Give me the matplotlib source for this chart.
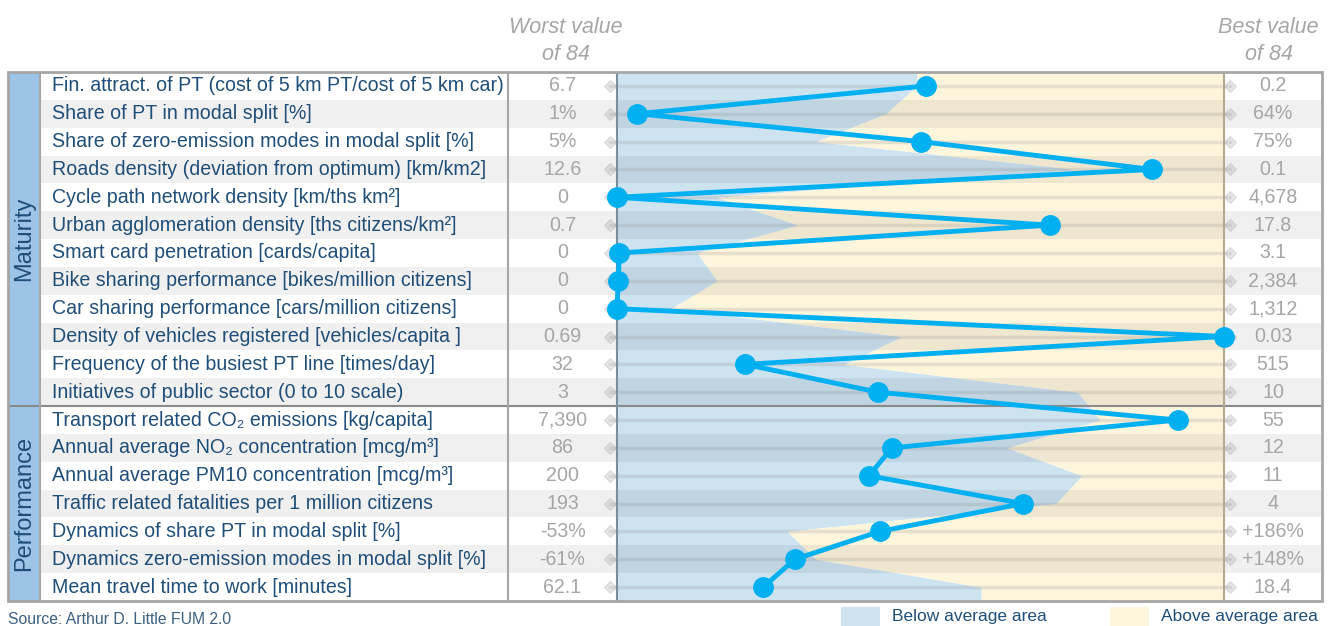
import matplotlib
matplotlib.use('Agg')
import matplotlib.pyplot as plt
from matplotlib.patches import Rectangle

plt.rcParams['font.family'] = ['Liberation Sans', 'DejaVu Sans']

# indicators (top to bottom)
labels = [
    'Fin. attract. of PT (cost of 5 km PT/cost of 5 km car)',
    'Share of PT in modal split [%]',
    'Share of zero-emission modes in modal split [%]',
    'Roads density (deviation from optimum) [km/km2]',
    'Cycle path network density [km/ths km\u00b2]',
    'Urban agglomeration density [ths citizens/km\u00b2]',
    'Smart card penetration [cards/capita]',
    'Bike sharing performance [bikes/million citizens]',
    'Car sharing performance [cars/million citizens]',
    'Density of vehicles registered [vehicles/capita ]',
    'Frequency of the busiest PT line [times/day]',
    'Initiatives of public sector (0 to 10 scale)',
    'Transport related CO\u2082 emissions [kg/capita]',
    'Annual average NO\u2082 concentration [mcg/m\u00b3]',
    'Annual average PM10 concentration [mcg/m\u00b3]',
    'Traffic related fatalities per 1 million citizens',
    'Dynamics of share PT in modal split [%]',
    'Dynamics zero-emission modes in modal split [%]',
    'Mean travel time to work [minutes]',
]
worst = ['6.7', '1%', '5%', '12.6', '0', '0.7', '0', '0', '0', '0.69', '32', '3',
         '7,390', '86', '200', '193', '-53%', '-61%', '62.1']
best = ['0.2', '64%', '75%', '0.1', '4,678', '17.8', '3.1', '2,384', '1,312', '0.03',
        '515', '10', '55', '12', '11', '4', '+186%', '+148%', '18.4']
# normalised city score (0 = worst, 1 = best)
score = [0.509, 0.033, 0.501, 0.882, 0.0, 0.713, 0.004, 0.002, 0.0, 1.0, 0.211, 0.430,
         0.924, 0.453, 0.415, 0.669, 0.433, 0.293, 0.241]
# normalised average of the 84 cities
average = [0.494, 0.443, 0.328, 0.759, 0.165, 0.298, 0.132, 0.165, 0.089, 0.470, 0.374,
           0.759, 0.796, 0.643, 0.766, 0.723, 0.280, 0.328, 0.600]
groups = ['Maturity', 'Performance']
group_sizes = [12, 7]

BLUE_FILL = '#cde3f0'
YELLOW_FILL = '#fdf5dc'
LINE_BLUE = '#00b0f0'
TEXT_BLUE = '#1f4e79'
GREY_TXT = '#a6a6a6'
BORDER = '#a6a6a6'

# column edges, in chart units (0..1 is the score scale)
TABLE_L, GROUP_R, LABEL_R, TABLE_R = -1.0033, -0.9506, -0.1796, 1.1614

n = len(labels)
rows = list(range(n))

fig = plt.figure(figsize=(13.3, 6.26), dpi=100)
ax = fig.add_axes([8 / 1330, 25 / 626, 1314 / 1330, 529 / 626])
ax.set_xlim(TABLE_L, TABLE_R)
ax.set_ylim(n - 0.5, -0.5)
ax.axis('off')

# below / above average areas
fy = [-0.5] + rows + [n - 0.5]
fx = [average[0]] + average + [average[-1]]
ax.fill_betweenx(fy, 0, fx, color=BLUE_FILL, lw=0, zorder=1)
ax.fill_betweenx(fy, fx, 1, color=YELLOW_FILL, lw=0, zorder=1)

# zebra stripes
for r in rows[1::2]:
    ax.fill_between([GROUP_R, TABLE_R], r - 0.5, r + 0.5, color='black', alpha=0.06, lw=0, zorder=2)

# group column
ax.add_patch(Rectangle((TABLE_L, -0.5), GROUP_R - TABLE_L, n, facecolor='#9dc3e6', lw=0, zorder=2))
start = 0
for g, size in zip(groups, group_sizes):
    ax.text((TABLE_L + GROUP_R) / 2, start + (size - 1) / 2, g, rotation=90,
            ha='center', va='center', fontsize=17, color=TEXT_BLUE, zorder=6)
    if start > 0:
        ax.plot([TABLE_L, TABLE_R], [start - 0.5, start - 0.5], color='#8a8a8a', lw=1.5, zorder=3)
    start += size

# row rules with diamond ends
for r in rows:
    ax.plot([-0.012, 1.01], [r, r], color='#888888', alpha=0.2, lw=2.5,
            marker='D', ms=6, zorder=3)

# table borders
for x, c in [(GROUP_R, BORDER), (LABEL_R, BORDER), (0, '#7a8f9e'), (1, '#b3aa8e')]:
    ax.plot([x, x], [-0.5, n - 0.5], color=c, lw=1.5, zorder=3)
ax.add_patch(Rectangle((TABLE_L, -0.5), TABLE_R - TABLE_L, n, fill=False,
                       edgecolor=BORDER, lw=2, zorder=4, clip_on=False))

# texts
for r in rows:
    ax.text(GROUP_R + 0.02, r, labels[r], ha='left', va='center', fontsize=14.1,
            color=TEXT_BLUE, zorder=6)
    ax.text(LABEL_R / 2, r, worst[r], ha='center', va='center', fontsize=14.1,
            color=GREY_TXT, zorder=6)
    ax.text((1 + TABLE_R) / 2, r, best[r], ha='center', va='center', fontsize=14.1,
            color=GREY_TXT, zorder=6)

# city profile
ax.plot(score, rows, '-o', color=LINE_BLUE, lw=3.5, ms=14, zorder=5, clip_on=False)

# headers
for x, word in [(LABEL_R / 2 + 0.005, 'Worst value'), ((1 + TABLE_R) / 2 - 0.007, 'Best value')]:
    ax.text(x, -1.9, word, ha='center', va='baseline', fontsize=15.5, style='italic',
            color=GREY_TXT)
    ax.text(x, -0.93, 'of 84', ha='center', va='baseline', fontsize=15.5, style='italic',
            color=GREY_TXT)

# footer: source and legend
fig.text(8 / 1330, 2 / 626, 'Source: Arthur D. Little FUM 2.0', fontsize=11.3,
         color='#3d5f80', ha='left', va='baseline')
for x0, col, txt in [(841, BLUE_FILL, 'Below average area'), (1110, YELLOW_FILL, 'Above average area')]:
    fig.patches.append(Rectangle((x0 / 1330, 0), 39 / 1330, 19 / 626, transform=fig.transFigure,
                                 facecolor=col, lw=0))
    fig.text((x0 + 51) / 1330, 5 / 626, txt, fontsize=12.5, color=TEXT_BLUE,
             ha='left', va='baseline')

fig.savefig('out.png', dpi=100)
